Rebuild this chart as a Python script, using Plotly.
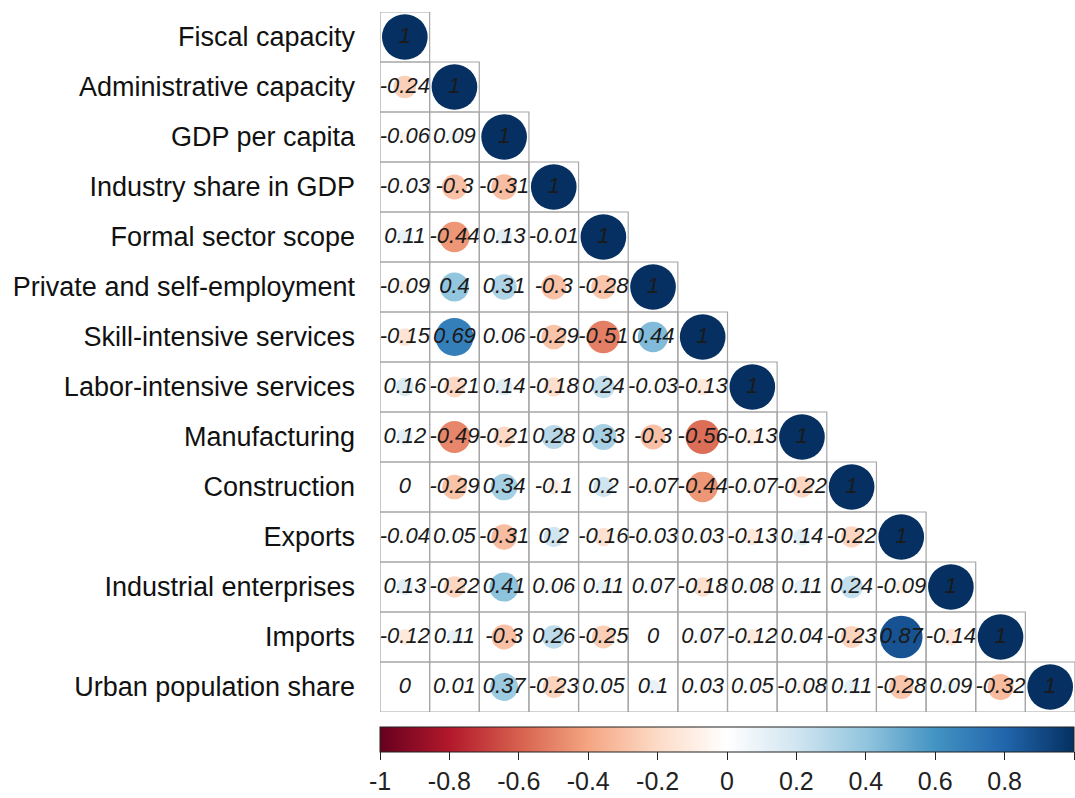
import plotly.graph_objects as go
import numpy as np

labels = ["Fiscal capacity", "Administrative capacity", "GDP per capita",
          "Industry share in GDP", "Formal sector scope", "Private and self-employment",
          "Skill-intensive services", "Labor-intensive services", "Manufacturing",
          "Construction", "Exports", "Industrial enterprises", "Imports",
          "Urban population share"]

row_fiscal = [1]
row_admin = [-0.24, 1]
row_gdp = [-0.06, 0.09, 1]
row_industry = [-0.03, -0.3, -0.31, 1]
row_formal = [0.11, -0.44, 0.13, -0.01, 1]
row_private = [-0.09, 0.4, 0.31, -0.3, -0.28, 1]
row_skill = [-0.15, 0.69, 0.06, -0.29, -0.51, 0.44, 1]
row_labor = [0.16, -0.21, 0.14, -0.18, 0.24, -0.03, -0.13, 1]
row_manuf = [0.12, -0.49, -0.21, 0.28, 0.33, -0.3, -0.56, -0.13, 1]
row_constr = [0, -0.29, 0.34, -0.1, 0.2, -0.07, -0.44, -0.07, -0.22, 1]
row_exports = [-0.04, 0.05, -0.31, 0.2, -0.16, -0.03, 0.03, -0.13, 0.14, -0.22, 1]
row_indent = [0.13, -0.22, 0.41, 0.06, 0.11, 0.07, -0.18, 0.08, 0.11, 0.24, -0.09, 1]
row_imports = [-0.12, 0.11, -0.3, 0.26, -0.25, 0, 0.07, -0.12, 0.04, -0.23, 0.87, -0.14, 1]
row_urban = [0, 0.01, 0.37, -0.23, 0.05, 0.1, 0.03, 0.05, -0.08, 0.11, -0.28, 0.09, -0.32, 1]

rows = [row_fiscal, row_admin, row_gdp, row_industry, row_formal, row_private,
        row_skill, row_labor, row_manuf, row_constr, row_exports, row_indent,
        row_imports, row_urban]

cbar_ticks = [-1, -0.8, -0.6, -0.4, -0.2, 0, 0.2, 0.4, 0.6, 0.8, 1]

rdbu = ["#67001F", "#B2182B", "#D6604D", "#F4A582", "#FDDBC7", "#FFFFFF",
        "#D1E5F0", "#92C5DE", "#4393C3", "#2166AC", "#053061"]
colorscale = [[i / 10, c] for i, c in enumerate(rdbu)]

W, H = 1075, 798
ml, mr, mt, mb = 380, 0, 12, 86
cell = (W - ml - mr) / 14.0
plot_h = H - mt - mb

xs, ys, vals, sizes, texts = [], [], [], [], []
for i, r in enumerate(rows):
    for j, v in enumerate(r):
        xs.append(j)
        ys.append(i)
        vals.append(v)
        sizes.append(0.92 * cell * np.sqrt(abs(v)))
        texts.append("<i>%s</i>" % (("%g" % v) if v != 0 else "0"))

fig = go.Figure()

shapes = []
for i, r in enumerate(rows):
    for j in range(len(r)):
        shapes.append(dict(type="rect", xref="x", yref="y",
                           x0=j - 0.5, x1=j + 0.5, y0=i - 0.5, y1=i + 0.5,
                           line=dict(color="#A6A6A6", width=1.2), layer="below"))

fig.add_trace(go.Scatter(
    x=xs, y=ys, mode="markers",
    marker=dict(size=sizes, color=vals, cmin=-1, cmax=1, colorscale=colorscale,
                line=dict(width=0), opacity=1,
                colorbar=dict(orientation="h", x=0, xanchor="left",
                              y=(mt + plot_h - 727) / plot_h, yanchor="top",
                              lenmode="pixels", len=W - ml - mr - 1,
                              thickness=25, outlinewidth=1, outlinecolor="#222",
                              xpad=0, ypad=0,
                              tickvals=cbar_ticks,
                              ticktext=["%g" % t for t in cbar_ticks],
                              ticks="outside", ticklen=8, tickcolor="#222",
                              tickfont=dict(family="Liberation Sans, Arial",
                                            size=25, color="#222"))),
    hoverinfo="skip", showlegend=False))

fig.add_trace(go.Scatter(
    x=xs, y=ys, mode="text", text=texts,
    textfont=dict(family="Liberation Sans, Arial", size=22, color="#1a1a1a"),
    textposition="middle center", hoverinfo="skip", showlegend=False))

fig.update_layout(
    width=W, height=H,
    margin=dict(l=ml, r=mr, t=mt, b=mb, autoexpand=False),
    paper_bgcolor="white", plot_bgcolor="white",
    shapes=shapes,
    xaxis=dict(range=[-0.5, 13.5], visible=False, fixedrange=True),
    yaxis=dict(range=[13.5, -0.5], tickmode="array",
               tickvals=list(range(14)), ticktext=labels,
               showgrid=False, zeroline=False, showline=False,
               ticks="", ticklabelstandoff=24, fixedrange=True,
               tickfont=dict(family="Liberation Sans, Arial", size=27, color="#111")),
)

fig.write_html("out.html", config={"displayModeBar": False},
               post_script="document.body.style.margin='0';document.body.style.overflow='hidden';")
